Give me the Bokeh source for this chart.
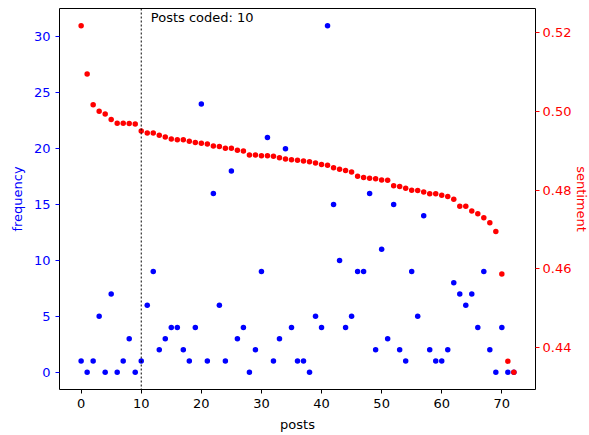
from bokeh.plotting import figure
from bokeh.models import Range1d, LinearAxis, FixedTicker, Span, Label, ColumnDataSource
from bokeh.embed import file_html
from bokeh.resources import INLINE

frequency = [1, 0, 1, 5, 0, 7, 0, 1, 3, 0,
             1, 6, 9, 2, 3, 4, 4, 2, 1, 4,
             24, 1, 16, 6, 1, 18, 3, 4, 0, 2,
             9, 21, 1, 3, 20, 4, 1, 1, 0, 5,
             4, 31, 15, 10, 4, 5, 9, 9, 16, 2,
             11, 3, 15, 2, 1, 9, 5, 14, 2, 1,
             1, 2, 8, 7, 6, 7, 4, 9, 2, 0,
             4, 0, 0]

sentiment = [0.5217, 0.5095, 0.5017, 0.5000, 0.4993, 0.4979, 0.4970, 0.4970, 0.4969, 0.4968,
             0.4950, 0.4945, 0.4945, 0.4939, 0.4935, 0.4930, 0.4928, 0.4928, 0.4924, 0.4921,
             0.4919, 0.4917, 0.4912, 0.4911, 0.4906, 0.4906, 0.4901, 0.4899, 0.4889, 0.4889,
             0.4887, 0.4887, 0.4886, 0.4882, 0.4879, 0.4877, 0.4876, 0.4874, 0.4872, 0.4869,
             0.4865, 0.4863, 0.4857, 0.4853, 0.4850, 0.4846, 0.4835, 0.4832, 0.4830, 0.4829,
             0.4826, 0.4825, 0.4811, 0.4809, 0.4805, 0.4800, 0.4799, 0.4795, 0.4791, 0.4791,
             0.4787, 0.4784, 0.4777, 0.4759, 0.4759, 0.4747, 0.4740, 0.4730, 0.4717, 0.4695,
             0.4587, 0.4366, 0.4338]

posts = list(range(len(sentiment)))
posts_coded = 10

x_ticks = [0, 10, 20, 30, 40, 50, 60, 70]
freq_ticks = [0, 5, 10, 15, 20, 25, 30]
sent_ticks = [0.44, 0.46, 0.48, 0.50, 0.52]

FONT = "DejaVu Sans"
FS = "13px"

def pad(lo, hi, m=0.05):
    d = (hi - lo) * m
    return lo - d, hi + d

x0, x1 = pad(min(posts), max(posts))
f0, f1 = pad(min(frequency), max(frequency))
s0, s1 = pad(min(sentiment), max(sentiment))

p = figure(width=589, height=435, frame_width=476, frame_height=381,
           min_border_left=59, min_border_right=54, min_border_top=8, min_border_bottom=46,
           x_range=Range1d(x0, x1), y_range=Range1d(f0, f1),
           output_backend="svg", toolbar_location=None, tools="")
p.extra_y_ranges = {"sent": Range1d(s0, s1)}

p.xgrid.visible = False
p.ygrid.visible = False
p.outline_line_color = "black"
p.outline_line_width = 1
p.background_fill_color = "white"
p.border_fill_color = "white"

# bottom axis
xa = p.xaxis[0]
xa.ticker = FixedTicker(ticks=x_ticks)
xa.axis_label = "posts"
# left axis
ya = p.yaxis[0]
ya.ticker = FixedTicker(ticks=freq_ticks)
ya.axis_label = "frequency"

ra = LinearAxis(y_range_name="sent", ticker=FixedTicker(ticks=sent_ticks), axis_label="sentiment")
p.add_layout(ra, "right")

for ax, col in ((xa, "black"), (ya, "blue"), (ra, "red")):
    ax.axis_line_color = None
    ax.minor_tick_line_color = None
    ax.major_tick_in = 0
    ax.major_tick_out = 4
    ax.major_tick_line_color = col
    ax.major_label_text_color = col
    ax.axis_label_text_color = col
    ax.major_label_text_font = FONT
    ax.axis_label_text_font = FONT
    ax.major_label_text_font_size = FS
    ax.axis_label_text_font_size = FS
    ax.axis_label_text_font_style = "normal"
    ax.major_label_standoff = 5
    ax.axis_label_standoff = 6

ra.axis_label_standoff = 0
ra.major_label_standoff = 3
ra.major_label_overrides = {t: f"{t:.2f}" for t in sent_ticks}

src = ColumnDataSource(dict(posts=posts, frequency=frequency, sentiment=sentiment))
p.scatter("posts", "frequency", source=src, size=5.5, color="blue", line_color=None)
p.scatter("posts", "sentiment", source=src, size=5.5, color="red", line_color=None, y_range_name="sent")

p.add_layout(Span(location=posts_coded, dimension="height", line_color="black",
                  line_dash="2 2", line_width=1))
p.add_layout(Label(x=posts_coded + 1.6, y=f1, y_offset=-1, text=f"Posts coded: {posts_coded}",
                   text_font=FONT, text_font_size=FS, text_color="black", text_baseline="top"))

open("out.html", "w").write(file_html(p, INLINE))
